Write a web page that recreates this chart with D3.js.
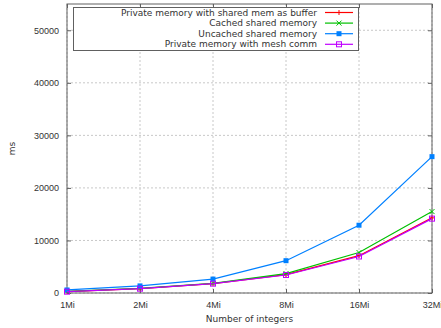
<!DOCTYPE html>
<html>
<head>
<meta charset="utf-8">
<script src="https://cdn.jsdelivr.net/npm/d3@7"></script>
<style>
  body { margin: 0; background: #fff; }
  svg { display: block; font-family: "DejaVu Sans", sans-serif; }
</style>
</head>
<body>
<div id="chart"></div>
<script>
// Data (x = number of integers, in Mi)
const sizes = [1, 2, 4, 8, 16, 32];
const sizeLabels = ["1Mi", "2Mi", "4Mi", "8Mi", "16Mi", "32Mi"];
const yTicks = [0, 10000, 20000, 30000, 40000, 50000];

const privateShared = [280, 850, 1800, 3500, 7100, 14300];
const cachedShared = [300, 880, 1820, 3700, 7700, 15500];
const uncachedShared = [580, 1350, 2650, 6150, 12900, 25950];
const privateMesh = [250, 820, 1780, 3430, 6950, 14150];

const seriesNames = [
    "Private memory with shared mem as buffer",
    "Cached shared memory",
    "Uncached shared memory",
    "Private memory with mesh comm"
];
const seriesColors = ["#ff0000", "#00c000", "#0080ff", "#c000ff"];
const seriesMarks = ["plus", "cross", "fillsq", "opensq"];

const series = [privateShared, cachedShared, uncachedShared, privateMesh].map((vals, i) => ({
    name: seriesNames[i],
    color: seriesColors[i],
    mark: seriesMarks[i],
    values: vals.map((v, j) => ({ x: sizes[j], y: v }))
}));

const width = 441, height = 328;
const margin = { top: 4, right: 9, bottom: 35, left: 67 };
const innerW = width - margin.left - margin.right;
const innerH = height - margin.top - margin.bottom;

const svg = d3.select("#chart").append("svg")
    .attr("width", width)
    .attr("height", height);

const g = svg.append("g")
    .attr("transform", `translate(${margin.left},${margin.top})`);

const x = d3.scaleLog().base(2).domain([1, 32]).range([0, innerW]);
const y = d3.scaleLinear().domain([0, 55000]).range([innerH, 0]);

const borderColor = "#606060";
const textColor = "#333";

// grid
g.append("g").selectAll("line")
    .data(sizes)
    .join("line")
    .attr("x1", d => x(d)).attr("x2", d => x(d))
    .attr("y1", 0).attr("y2", innerH)
    .attr("stroke", "#c8c8c8")
    .attr("stroke-width", 1)
    .attr("stroke-dasharray", "2,2");

g.append("g").selectAll("line")
    .data(yTicks)
    .join("line")
    .attr("x1", 0).attr("x2", innerW)
    .attr("y1", d => y(d)).attr("y2", d => y(d))
    .attr("stroke", "#c8c8c8")
    .attr("stroke-width", 1)
    .attr("stroke-dasharray", "2,2");

// axes with inward ticks, mirrored on top and right
const xAxis = d3.axisBottom(x).tickValues(sizes)
    .tickFormat((d, i) => sizeLabels[i]).tickSizeInner(-4).tickSizeOuter(0).tickPadding(9);
const yAxis = d3.axisLeft(y).tickValues(yTicks).tickFormat(d3.format("d"))
    .tickSizeInner(-4).tickSizeOuter(0).tickPadding(8);

g.append("g").attr("transform", `translate(0,${innerH})`).call(xAxis);
g.append("g").call(yAxis);
g.append("g").call(d3.axisTop(x).tickValues(sizes).tickFormat("").tickSizeInner(-4).tickSizeOuter(0));
g.append("g").attr("transform", `translate(${innerW},0)`)
    .call(d3.axisRight(y).tickValues(yTicks).tickFormat("").tickSizeInner(-4).tickSizeOuter(0));

g.selectAll(".domain").remove();
g.selectAll(".tick line").attr("stroke", borderColor);
g.selectAll(".tick text").attr("fill", textColor).style("font-size", "9px");

g.append("rect")
    .attr("width", innerW).attr("height", innerH)
    .attr("fill", "none")
    .attr("stroke", borderColor)
    .attr("stroke-width", 1);

// axis labels
svg.append("text")
    .attr("x", margin.left + innerW / 2)
    .attr("y", 322)
    .attr("text-anchor", "middle")
    .attr("fill", textColor)
    .style("font-size", "9px")
    .text("Number of integers");

svg.append("text")
    .attr("transform", `translate(15,${margin.top + innerH / 2}) rotate(-90)`)
    .attr("text-anchor", "middle")
    .attr("fill", textColor)
    .style("font-size", "9px")
    .text("ms");

// point symbols
function drawMark(sel, mark, color) {
    const s = 2.5;
    if (mark === "plus") {
        sel.append("path").attr("d", `M${-s},0H${s}M0,${-s}V${s}`)
            .attr("stroke", color).attr("fill", "none");
    } else if (mark === "cross") {
        sel.append("path").attr("d", `M${-s},${-s}L${s},${s}M${-s},${s}L${s},${-s}`)
            .attr("stroke", color).attr("fill", "none");
    } else if (mark === "fillsq") {
        sel.append("rect").attr("x", -s).attr("y", -s).attr("width", 2 * s).attr("height", 2 * s)
            .attr("fill", color);
    } else {
        sel.append("rect").attr("x", -s).attr("y", -s).attr("width", 2 * s).attr("height", 2 * s)
            .attr("fill", "none").attr("stroke", color);
    }
}

const line = d3.line().x(d => x(d.x)).y(d => y(d.y));

series.forEach(s => {
    g.append("path")
        .datum(s.values)
        .attr("d", line)
        .attr("fill", "none")
        .attr("stroke", s.color)
        .attr("stroke-width", 1.2);
    s.values.forEach(p => {
        const m = g.append("g").attr("transform", `translate(${x(p.x)},${y(p.y)})`);
        drawMark(m, s.mark, s.color);
    });
});

// legend
const legend = svg.append("g");
legend.append("rect")
    .attr("x", 73.5).attr("y", 7.5)
    .attr("width", 285).attr("height", 43)
    .attr("fill", "#fff")
    .attr("stroke", borderColor);

series.forEach((s, i) => {
    const ly = 12.5 + i * 10.6;
    legend.append("text")
        .attr("x", 317).attr("y", ly)
        .attr("dy", "0.35em")
        .attr("text-anchor", "end")
        .attr("fill", textColor)
        .style("font-size", "9px")
        .text(s.name);
    legend.append("line")
        .attr("x1", 325).attr("x2", 353)
        .attr("y1", ly).attr("y2", ly)
        .attr("stroke", s.color).attr("stroke-width", 1.2);
    const m = legend.append("g").attr("transform", `translate(339,${ly})`);
    drawMark(m, s.mark, s.color);
});
</script>
</body>
</html>
